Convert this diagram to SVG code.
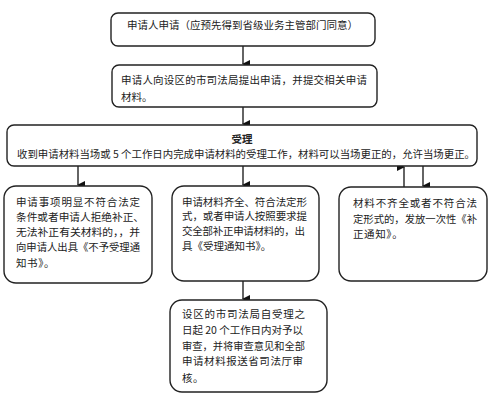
<svg xmlns="http://www.w3.org/2000/svg" width="494" height="400" viewBox="0 0 494 400">
<defs>
<marker id="ah" markerWidth="8" markerHeight="8" refX="4" refY="7" orient="auto-start-reverse" markerUnits="userSpaceOnUse" viewBox="0 0 8 8">
<path d="M0,0 L8,0 L4,8 Z" fill="#111"/>
</marker>
<style>
.box{fill:#fff;stroke:#222;stroke-width:1.4}
.t{font-family:"Noto Sans CJK SC","Noto Sans",sans-serif;font-size:10.5px;fill:#222}
.b{font-weight:bold}
.c line{stroke:#111;stroke-width:1.3}
</style>
</defs>
<rect width="494" height="400" fill="#fff"/>
<g class="c" id="connectors">
<line x1="243" y1="46" x2="243" y2="64" marker-end="url(#ah)"/>
<line x1="243" y1="107" x2="243" y2="124" marker-end="url(#ah)"/>
<line x1="78" y1="166" x2="78" y2="185" marker-end="url(#ah)"/>
<line x1="243" y1="166" x2="243" y2="185" marker-end="url(#ah)"/>
<line x1="404" y1="187" x2="404" y2="167" marker-end="url(#ah)"/>
<line x1="423" y1="166" x2="423" y2="186" marker-end="url(#ah)"/>
<line x1="243" y1="281" x2="243" y2="299" marker-end="url(#ah)"/>
</g>
<g id="n1">
<rect class="box" x="111" y="13" width="264" height="33" rx="7"/>
<text class="t" x="127" y="29">申请人申请（应预先得到省级业务主管部门同意）</text>
</g>
<g id="n2">
<rect class="box" x="112" y="65" width="265" height="42" rx="7"/>
<text class="t" x="121" y="84" letter-spacing="0.2">申请人向设区的市司法局提出申请，并提交相关申请</text>
<text class="t" x="121" y="101">材料。</text>
</g>
<g id="n3">
<rect class="box" x="7" y="125" width="470" height="41" rx="7"/>
<text class="t b" x="242" y="143" text-anchor="middle">受理</text>
<text class="t" x="17" y="158" textLength="458" lengthAdjust="spacingAndGlyphs">收到申请材料当场或 5 个工作日内完成申请材料的受理工作，材料可以当场更正的，允许当场更正。</text>
</g>
<g id="n4">
<rect class="box" x="4" y="186" width="148" height="97" rx="12"/>
<text class="t" x="16" y="206" textLength="124" lengthAdjust="spacing">申请事项明显不符合法定</text>
<text class="t" x="16" y="221" textLength="128" lengthAdjust="spacingAndGlyphs">条件或者申请人拒绝补正、</text>
<text class="t" x="16" y="236" textLength="124" lengthAdjust="spacingAndGlyphs">无法补正有关材料的，，并</text>
<text class="t" x="16" y="251" textLength="124" lengthAdjust="spacingAndGlyphs">向申请人出具《不予受理通</text>
<text class="t" x="16" y="267" letter-spacing="0.6">知书》。</text>
</g>
<g id="n5">
<rect class="box" x="172" y="186" width="147" height="95" rx="12"/>
<text class="t" x="182" y="206" textLength="125" lengthAdjust="spacing">申请材料齐全、符合法定形</text>
<text class="t" x="182" y="220" textLength="125" lengthAdjust="spacing">式，或者申请人按照要求提</text>
<text class="t" x="182" y="235" textLength="123" lengthAdjust="spacing">交全部补正申请材料的，出</text>
<text class="t" x="182" y="250">具《受理通知书》。</text>
</g>
<g id="n6">
<rect class="box" x="339" y="187" width="148" height="94" rx="12"/>
<text class="t" x="353" y="207" textLength="124" lengthAdjust="spacing">材料不齐全或者不符合法</text>
<text class="t" x="353" y="223" textLength="124" lengthAdjust="spacingAndGlyphs">定形式的，发放一次性《补</text>
<text class="t" x="353" y="238" letter-spacing="0.6">正通知》。</text>
</g>
<g id="n7">
<rect class="box" x="170" y="300" width="157" height="92" rx="12"/>
<text class="t" x="182" y="318" textLength="123" lengthAdjust="spacing">设区的市司法局自受理之</text>
<text class="t" x="182" y="334" textLength="121" lengthAdjust="spacing">日起 20 个工作日内对予以</text>
<text class="t" x="182" y="350" textLength="123" lengthAdjust="spacingAndGlyphs">审查，并将审查意见和全部</text>
<text class="t" x="182" y="365" textLength="121" lengthAdjust="spacing">申请材料报送省司法厅审</text>
<text class="t" x="182" y="382" letter-spacing="0.6">核。</text>
</g>
</svg>
